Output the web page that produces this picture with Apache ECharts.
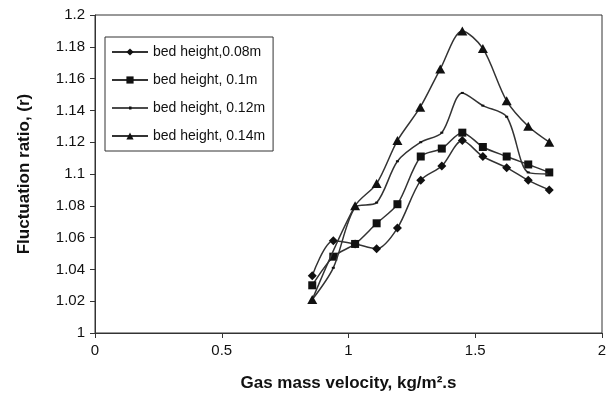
<!DOCTYPE html>
<html>
<head>
<meta charset="utf-8">
<script src="https://cdn.jsdelivr.net/npm/echarts@6/dist/echarts.min.js"></script>
<style>
  html, body {margin:0; padding:0; background:#fff;}
  #chart {width:606px; height:401px;}
</style>
</head>
<body>
<div id="chart"></div>
<script>
// valores
const velocidad = [0.857, 0.94, 1.026, 1.111, 1.193, 1.285, 1.368, 1.449, 1.53, 1.624, 1.709, 1.792];
const velocidad14 = [0.857, 1.026, 1.111, 1.193, 1.283, 1.362, 1.449, 1.53, 1.624, 1.709, 1.792];
const altura008 = [1.036, 1.058, 1.056, 1.053, 1.066, 1.096, 1.105, 1.121, 1.111, 1.104, 1.096, 1.09];
const altura010 = [1.030, 1.048, 1.056, 1.069, 1.081, 1.111, 1.116, 1.126, 1.117, 1.111, 1.106, 1.101];
const altura012 = [1.021, 1.041, 1.079, 1.082, 1.108, 1.120, 1.126, 1.151, 1.143, 1.136, 1.101, 1.100];
const altura014 = [1.021, 1.080, 1.094, 1.121, 1.142, 1.166, 1.190, 1.179, 1.146, 1.130, 1.120];
const nombres = ["bed height,0.08m", "bed height, 0.1m", "bed height, 0.12m", "bed height, 0.14m"];
const simbolos = ["diamond", "rect", "rect", "triangle"];
const tamanos = [[9, 9], [8, 8], [3, 2], [10, 9]];

const fuente = "'Liberation Sans', Arial, sans-serif";
const pares = (xs, ys) => xs.map((x, i) => [x, ys[i]]);
const datos = [
    pares(velocidad, altura008),
    pares(velocidad, altura010),
    pares(velocidad, altura012),
    pares(velocidad14, altura014)
];
// icono de leyenda para la serie de marcador pequeño (linea con un punto)
const iconoPunto = "path://M0,4.3L36,4.3L36,5.7L0,5.7Z M17,3.5L19.5,3.5L19.5,6.5L17,6.5Z";

let chart = echarts.init(document.getElementById("chart"), null, {renderer: "canvas"});
let options = {
    backgroundColor: "#fff",
    animation: false,
    textStyle: {fontFamily: fuente},
    grid: {left: 95, right: 4, top: 15, bottom: 68, containLabel: false, outerBoundsMode: "none",
        show: true, borderColor: "#333", borderWidth: 1},
    legend: {
        left: 105, top: 37,
        orient: "vertical",
        padding: [8, 8, 8, 6],
        itemGap: 14,
        itemWidth: 36, itemHeight: 9,
        borderColor: "#333", borderWidth: 1,
        textStyle: {fontFamily: fuente, fontSize: 14, color: "#111"},
        data: nombres.map((n, i) => i == 2 ? {name: n, icon: iconoPunto} : {name: n})
    },
    xAxis: {
        type: "value",
        min: 0, max: 2, interval: 0.5,
        name: "Gas mass velocity, kg/m\u00b2.s",
        nameLocation: "middle",
        nameGap: 42,
        nameTextStyle: {fontFamily: fuente, fontSize: 17, fontWeight: "bold", color: "#111"},
        axisLine: {lineStyle: {color: "#333"}},
        axisTick: {show: true, length: 5, lineStyle: {color: "#333"}},
        axisLabel: {fontFamily: fuente, fontSize: 15, color: "#111", margin: 10},
        splitLine: {show: false}
    },
    yAxis: {
        type: "value",
        min: 1, max: 1.2, interval: 0.02,
        name: "Fluctuation ratio, (r)",
        nameLocation: "middle",
        nameGap: 62,
        nameTextStyle: {fontFamily: fuente, fontSize: 17, fontWeight: "bold", color: "#111"},
        axisLine: {show: true, lineStyle: {color: "#333"}},
        axisTick: {show: true, length: 5, lineStyle: {color: "#333"}},
        axisLabel: {fontFamily: fuente, fontSize: 15, color: "#111", margin: 10,
            formatter: v => String(+v.toFixed(2))},
        splitLine: {show: false}
    },
    series: datos.map((d, i) => ({
        name: nombres[i],
        type: "line",
        data: d,
        smooth: 0.3,
        symbol: simbolos[i],
        symbolSize: tamanos[i],
        showSymbol: true,
        itemStyle: {color: "#111"},
        lineStyle: {color: "#333", width: 1.5},
        z: 2 + i
    }))
};
chart.setOption(options);
</script>
</body>
</html>
